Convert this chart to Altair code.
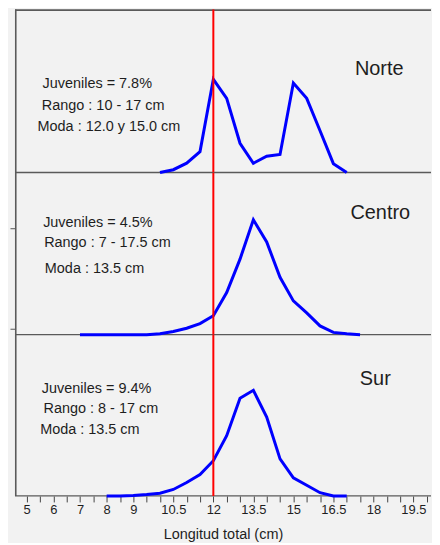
import altair as alt
import pandas as pd

# ---- data (length in cm, relative frequency) ----
len_norte = [10.0, 10.5, 11.0, 11.5, 12.0, 12.5, 13.0, 13.5, 14.0, 14.5, 15.0, 15.5, 16.0, 16.5, 17.0]
freq_norte = [0.0, 0.6, 2.0, 4.5, 20.1, 16.0, 6.3, 2.0, 3.5, 3.9, 19.3, 16.0, 9.0, 1.9, 0.0]

len_centro = [7.0, 7.5, 8.0, 8.5, 9.0, 9.5, 10.0, 10.5, 11.0, 11.5, 12.0, 12.5, 13.0, 13.5, 14.0,
              14.5, 15.0, 15.5, 16.0, 16.5, 17.0, 17.5]
freq_centro = [0.0, 0.0, 0.0, 0.0, 0.0, 0.0, 0.2, 0.7, 1.4, 2.4, 4.1, 9.1, 16.3, 24.8, 20.0,
               12.4, 7.3, 4.7, 1.9, 0.5, 0.2, 0.0]

len_sur = [8.0, 8.5, 9.0, 9.5, 10.0, 10.5, 11.0, 11.5, 12.0, 12.5, 13.0, 13.5, 14.0, 14.5, 15.0,
           15.5, 16.0, 16.5, 17.0]
freq_sur = [0.0, 0.0, 0.1, 0.3, 0.6, 1.4, 2.9, 4.6, 7.6, 13.0, 21.1, 22.8, 17.0, 8.0, 3.9,
            2.3, 0.7, 0.0, 0.0]

zones = ["Norte", "Centro", "Sur"]
notes = {
    "Norte": ["Juveniles = 7.8%", "Rango : 10 - 17 cm", "Moda : 12.0 y 15.0 cm"],
    "Centro": ["Juveniles = 4.5%", "Rango : 7 - 17.5 cm", "Moda : 13.5 cm"],
    "Sur": ["Juveniles = 9.4%", "Rango : 8 - 17 cm", "Moda : 13.5 cm"],
}
tick_values = [5 + 0.5 * i for i in range(31)]
label_values = [5, 6, 7, 8, 9, 10.5, 12, 13.5, 15, 16.5, 18, 19.5]
juvenile_cut = [12]

# ---- layout / style ----
FONT = "Liberation Sans"
W = 418
PX_PER_UNIT = 4.657
X_DOMAIN = [4.563, 4.563 + W / 26.8]
FRAME = "#5a5a5a"
TXT = "#1e1e1e"

heights = {"Norte": 164, "Centro": 163, "Sur": 162}
title_pos = {"Norte": (366, 60.5), "Centro": (367, 40.5), "Sur": (362, 45)}
note_pos = {
    "Norte": [(27.7, 75.3), (27, 97), (22.7, 118.7)],
    "Centro": [(28.3, 50.3), (29.3, 70.7), (30, 97)],
    "Sur": [(27, 55), (28.7, 75), (25.3, 96)],
}
series = {
    "Norte": (len_norte, freq_norte),
    "Centro": (len_centro, freq_centro),
    "Sur": (len_sur, freq_sur),
}

label_list = ",".join(str(v) for v in label_values)
label_expr = f"indexof([{label_list}], datum.value) >= 0 ? format(datum.value, '~g') : ''"


def panel(zone):
    h = heights[zone]
    xs, ys = series[zone]
    df = pd.DataFrame({"len": xs, "freq": ys})
    y_dom = [0, h / PX_PER_UNIT]
    x_scale = alt.Scale(domain=X_DOMAIN, nice=False, zero=False)

    if zone == "Sur":
        x_axis = alt.Axis(
            values=tick_values, tickCount=60, labelExpr=label_expr, labelOverlap=False,
            labelFlush=False, labelBound=False,
            domain=False, grid=False, ticks=True, tickSize=6, tickColor="#444", tickWidth=1,
            labelFont=FONT, labelFontSize=13, labelColor=TXT, labelPadding=2,
            title="Longitud total (cm)", titleFont=FONT, titleFontSize=14.5,
            titleFontWeight="normal", titleColor=TXT, titlePadding=11,
        )
    else:
        x_axis = None

    if zone == "Centro":
        y_axis = alt.Axis(values=[1.2, 22.9], tickCount=10, labels=False, domain=False,
                          grid=False, ticks=True, tickSize=5, tickColor="#555", title=None,
                          minExtent=0)
    else:
        y_axis = None

    x_enc = alt.X("len:Q", scale=x_scale, axis=x_axis)
    y_enc = alt.Y("freq:Q", scale=alt.Scale(domain=y_dom, nice=False, zero=False), axis=y_axis)

    one = pd.DataFrame({"k": [0]})
    left = alt.Chart(one).mark_rule(color=FRAME, strokeWidth=3.2, clip=True).encode(x=alt.value(0))
    bottom = alt.Chart(one).mark_rule(color=FRAME, strokeWidth=1.3).encode(y=alt.value(h))
    layers = [left, bottom]
    if zone == "Norte":
        top = alt.Chart(one).mark_rule(color=FRAME, strokeWidth=3.6, clip=True).encode(y=alt.value(0))
        layers.append(top)

    line = alt.Chart(df).mark_line(color="#0000ff", strokeWidth=3).encode(x=x_enc, y=y_enc)

    cut = alt.Chart(pd.DataFrame({"len": juvenile_cut})).mark_rule(
        color="#ff0000", strokeWidth=2, clip=True).encode(
        x=alt.X("len:Q", scale=x_scale, axis=x_axis))

    layers += [line, cut]

    tx, ty = title_pos[zone]
    ttl = alt.Chart(pd.DataFrame({"t": [zone]})).mark_text(
        font=FONT, fontSize=20, color=TXT, align="center", baseline="middle"
    ).encode(x=alt.value(tx), y=alt.value(ty), text="t:N")
    layers.append(ttl)

    for txt, (nx, ny) in zip(notes[zone], note_pos[zone]):
        layers.append(
            alt.Chart(pd.DataFrame({"t": [txt]})).mark_text(
                font=FONT, fontSize=14.5, color=TXT, align="left", baseline="middle"
            ).encode(x=alt.value(nx), y=alt.value(ny), text="t:N")
        )

    return alt.layer(*layers).properties(width=W, height=h)


chart = alt.vconcat(*[panel(z) for z in zones], spacing=0, bounds="flush").properties(
    background="#f2f2f2",
    padding={"left": 1, "top": 0, "right": 0, "bottom": 0},
).configure_view(stroke=None)

chart.save("out.html", embed_options={"renderer": "svg", "actions": False})
